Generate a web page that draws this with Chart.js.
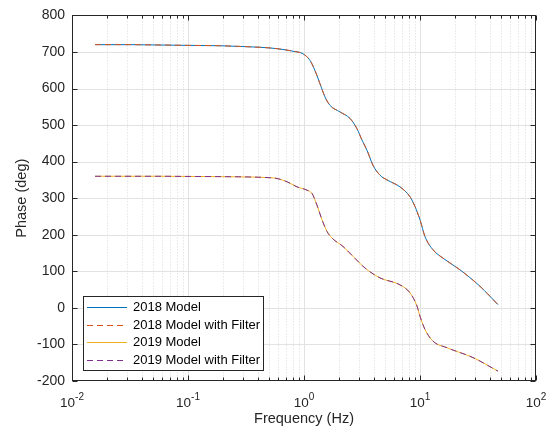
<!DOCTYPE html>
<html>
<head>
<meta charset="utf-8">
<script src="https://cdn.jsdelivr.net/npm/chart.js@4.4.0/dist/chart.umd.min.js"></script>
<style>
    html, body { margin: 0; padding: 0; background: #fff; }
</style>
</head>
<body>
<canvas id="phaseChart" width="551" height="435"></canvas>
<script>
// frequency (Hz) and phase (deg)
const freq2018 = [0.0158, 0.0316, 0.0574, 0.104, 0.189, 0.342, 0.509, 0.686, 0.804, 0.980, 1.126, 1.244, 1.374, 1.517, 1.675, 2.043, 2.493, 2.863, 3.162, 3.493, 3.934, 4.521, 5.195, 6.723, 8.20, 9.06, 10.0, 11.04, 12.94, 15.79, 22.13, 32.9, 47.0];
const phase2018 = [720, 720, 719, 718, 717, 714, 711, 706, 702, 695, 677, 649, 613, 577, 554, 536, 518, 490, 459, 431, 390, 363, 350, 331, 304, 277, 241, 195, 159, 136, 104, 59, 9];
const phase2018Filter = [720, 720, 719, 718, 717, 714, 711, 706, 702, 695, 677, 649, 613, 577, 554, 536, 518, 490, 459, 431, 390, 363, 350, 331, 304, 277, 241, 195, 159, 136, 104, 59, 9];

const freq2019 = [0.0158, 0.0316, 0.0574, 0.104, 0.189, 0.342, 0.509, 0.585, 0.713, 0.870, 1.061, 1.172, 1.294, 1.430, 1.579, 1.743, 2.169, 2.645, 3.357, 4.521, 6.723, 8.20, 9.42, 10.0, 11.04, 12.94, 17.09, 28.63, 47.0];
const phase2019 = [360, 360, 360, 359.5, 359, 358, 356, 354, 345, 331, 322, 313, 281, 241, 209, 191, 168, 141, 109, 82, 63, 41, 5, -23, -59, -91, -109, -136, -173];
const phase2019Filter = [360, 360, 360, 359.5, 359, 358, 356, 354, 345, 331, 322, 313, 281, 241, 209, 191, 168, 141, 109, 82, 63, 41, 5, -23, -59, -91, -109, -136, -173];

const seriesLabels = ["2018 Model", "2018 Model with Filter", "2019 Model", "2019 Model with Filter"];
const xDecades = [-2, -1, 0, 1, 2];
const yTicks = [-200, -100, 0, 100, 200, 300, 400, 500, 600, 700, 800];

const FONT = "'Liberation Sans', Arial, Helvetica, sans-serif";
const AXIS_COLOR = "#262626";

function pts(xs, ys) {
    return xs.map((x, i) => ({ x: x, y: ys[i] }));
}

// draws the MATLAB style box, grid, ticks, labels and legend
const matlabAxes = {
    id: "matlabAxes",
    beforeDatasetsDraw(chart) {
        const { ctx, chartArea: a, scales: { x, y } } = chart;
        ctx.save();
        ctx.lineWidth = 1;
        // minor x grid (dotted)
        ctx.strokeStyle = "#d9d9d9";
        ctx.setLineDash([1, 2]);
        for (let n = -2; n < 2; n++) {
            for (let k = 2; k <= 9; k++) {
                const px = Math.round(x.getPixelForValue(k * Math.pow(10, n))) + 0.5;
                ctx.beginPath();
                ctx.moveTo(px, a.top);
                ctx.lineTo(px, a.bottom);
                ctx.stroke();
            }
        }
        ctx.setLineDash([]);
        // major grid
        ctx.strokeStyle = "#e2e2e2";
        xDecades.slice(1, -1).forEach(n => {
            const px = Math.round(x.getPixelForValue(Math.pow(10, n))) + 0.5;
            ctx.beginPath();
            ctx.moveTo(px, a.top);
            ctx.lineTo(px, a.bottom);
            ctx.stroke();
        });
        yTicks.slice(1, -1).forEach(v => {
            const py = Math.round(y.getPixelForValue(v)) + 0.5;
            ctx.beginPath();
            ctx.moveTo(a.left, py);
            ctx.lineTo(a.right, py);
            ctx.stroke();
        });
        ctx.restore();
    },
    afterDatasetsDraw(chart) {
        const { ctx, chartArea: a, scales: { x, y } } = chart;
        const L = Math.round(a.left) + 0.5, R = Math.round(a.right) - 0.5;
        const T = Math.round(a.top) + 0.5, B = Math.round(a.bottom) - 0.5;
        ctx.save();
        ctx.strokeStyle = AXIS_COLOR;
        ctx.lineWidth = 1;
        ctx.strokeRect(L, T, R - L, B - T);

        // ticks pointing inward
        ctx.beginPath();
        for (let n = -2; n <= 2; n++) {
            for (let k = 1; k <= 9; k++) {
                if (n === 2 && k > 1) break;
                const px = Math.round(x.getPixelForValue(k * Math.pow(10, n))) + 0.5;
                const len = k === 1 ? 5 : 3;
                ctx.moveTo(px, B); ctx.lineTo(px, B - len);
                ctx.moveTo(px, T); ctx.lineTo(px, T + len);
            }
        }
        yTicks.forEach(v => {
            const py = Math.round(y.getPixelForValue(v)) + 0.5;
            ctx.moveTo(L, py); ctx.lineTo(L + 5, py);
            ctx.moveTo(R, py); ctx.lineTo(R - 5, py);
        });
        ctx.stroke();

        // x tick labels 10^n
        ctx.fillStyle = AXIS_COLOR;
        ctx.textBaseline = "alphabetic";
        xDecades.forEach(n => {
            const px = x.getPixelForValue(Math.pow(10, n));
            const exp = String(n);
            ctx.font = "13.5px " + FONT;
            const wBase = ctx.measureText("10").width;
            ctx.font = "10px " + FONT;
            const wExp = ctx.measureText(exp).width;
            const start = px - (wBase + wExp) / 2;
            ctx.font = "13.5px " + FONT;
            ctx.textAlign = "left";
            ctx.fillText("10", start, 407);
            ctx.font = "10px " + FONT;
            ctx.fillText(exp, start + wBase, 400);
        });

        // axis titles
        ctx.font = "14.5px " + FONT;
        ctx.textAlign = "center";
        ctx.textBaseline = "middle";
        ctx.fillText("Frequency (Hz)", (a.left + a.right) / 2, 419);
        ctx.save();
        ctx.translate(22, (a.top + a.bottom) / 2);
        ctx.rotate(-Math.PI / 2);
        ctx.fillText("Phase (deg)", 0, 0);
        ctx.restore();

        // legend
        ctx.fillStyle = "#fff";
        ctx.fillRect(83.5, 296.5, 180, 74);
        ctx.strokeStyle = AXIS_COLOR;
        ctx.strokeRect(83.5, 296.5, 180, 74);
        const rows = [307, 324.7, 342.3, 360];
        chart.data.datasets.forEach((ds, i) => {
            const ry = Math.round(rows[i]) + 0.5;
            ctx.strokeStyle = ds.borderColor;
            ctx.lineWidth = 1;
            ctx.setLineDash(ds.borderDash || []);
            ctx.beginPath();
            ctx.moveTo(87, ry);
            ctx.lineTo(127, ry);
            ctx.stroke();
            ctx.setLineDash([]);
            ctx.fillStyle = "#000";
            ctx.font = "13px " + FONT;
            ctx.textAlign = "left";
            ctx.textBaseline = "middle";
            ctx.fillText(ds.label, 133, rows[i] + 0.5);
        });
        ctx.restore();
    }
};

const ctx = document.getElementById("phaseChart").getContext("2d");
new Chart(ctx, {
    type: "line",
    data: {
        datasets: [
            {
                label: seriesLabels[0],
                data: pts(freq2018, phase2018),
                borderColor: "#0072BD",
                order: 2
            },
            {
                label: seriesLabels[1],
                data: pts(freq2018, phase2018Filter),
                borderColor: "#D95319",
                borderDash: [6, 4],
                order: 1
            },
            {
                label: seriesLabels[2],
                data: pts(freq2019, phase2019),
                borderColor: "#EDB120",
                order: 2
            },
            {
                label: seriesLabels[3],
                data: pts(freq2019, phase2019Filter),
                borderColor: "#7E2F8E",
                borderDash: [6, 4],
                order: 1
            }
        ]
    },
    options: {
        responsive: false,
        animation: false,
        layout: { padding: { top: 15, right: 15, left: 0, bottom: 0 } },
        elements: {
            line: { borderWidth: 1, cubicInterpolationMode: "monotone", fill: false },
            point: { radius: 0 }
        },
        plugins: {
            legend: { display: false },
            tooltip: { enabled: false }
        },
        scales: {
            x: {
                type: "logarithmic",
                min: 0.01,
                max: 100,
                grid: { display: false, drawTicks: false },
                border: { display: false },
                ticks: { display: false },
                afterFit: scale => { scale.height = 54; }
            },
            y: {
                min: -200,
                max: 800,
                grid: { display: false, drawTicks: false },
                border: { display: false },
                afterBuildTicks: scale => { scale.ticks = yTicks.map(v => ({ value: v })); },
                ticks: {
                    padding: 7,
                    color: AXIS_COLOR,
                    font: { family: FONT, size: 14 }
                },
                afterFit: scale => { scale.width = 72; }
            }
        }
    },
    plugins: [matlabAxes]
});
</script>
</body>
</html>
